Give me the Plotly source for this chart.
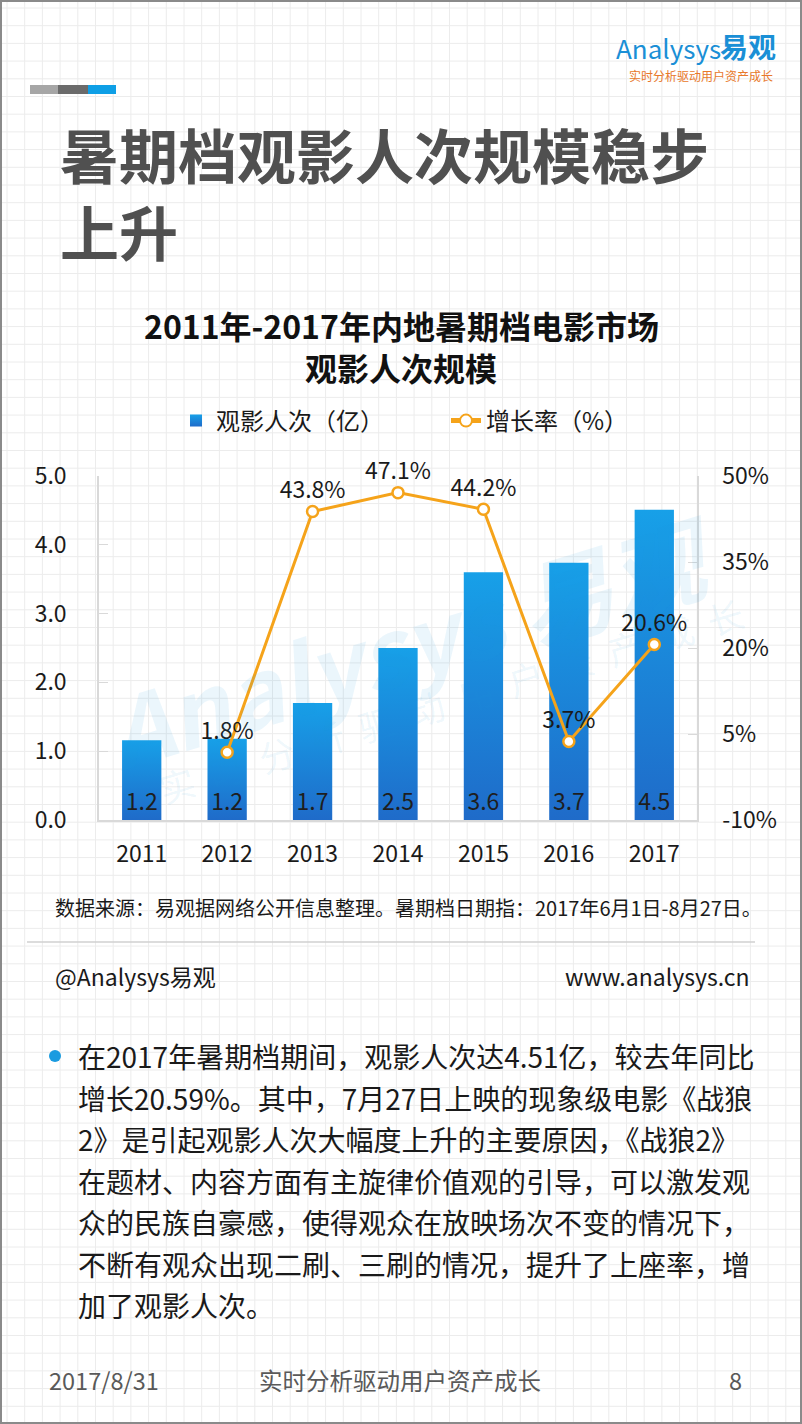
import plotly.graph_objects as go

# ---------------- data ----------------
years = ['2011', '2012', '2013', '2014', '2015', '2016', '2017']
viewers = [1.16, 1.18, 1.70, 2.50, 3.60, 3.74, 4.51]          # 观影人次（亿）
growth = [None, 1.8, 43.8, 47.1, 44.2, 3.7, 20.6]            # 增长率（%）
left_ticks = [0, 1, 2, 3, 4, 5]
left_labels = ['0.0', '1.0', '2.0', '3.0', '4.0', '5.0']
right_ticks = [-10, 5, 20, 35, 50]
right_labels = ['-10%', '5%', '20%', '35%', '50%']

paragraph = [
    '在2017年暑期档期间，观影人次达4.51亿，较去年同比',
    '增长20.59%。其中，7月27日上映的现象级电影《战狼',
    '2》是引起观影人次大幅度上升的主要原因，《战狼2》',
    '在题材、内容方面有主旋律价值观的引导，可以激发观',
    '众的民族自豪感，使得观众在放映场次不变的情况下，',
    '不断有观众出现二刷、三刷的情况，提升了上座率，增',
    '加了观影人次。',
]

W, H = 802, 1424
FONT = 'Noto Sans CJK SC'


def px(x):
    return x / W


def py(y):
    return 1 - y / H


fig = go.Figure()

fig.add_trace(go.Bar(
    x=years, y=viewers, name='观影人次（亿）',
    marker=dict(color='#1b8ad9', line=dict(width=0)),
    texttemplate='%{y:.1f}', textposition='inside', insidetextanchor='start',
    textfont=dict(family=FONT, size=23, color='#1e1e1e'),
    hoverinfo='skip', cliponaxis=False,
))

fig.add_trace(go.Scatter(
    x=years, y=growth, name='增长率（%）', yaxis='y2',
    mode='lines+markers+text',
    line=dict(color='#f5a31a', width=3),
    marker=dict(size=11, color='white', line=dict(color='#f5a31a', width=2.5)),
    texttemplate='%{y:.1f}%', textposition='top center',
    textfont=dict(family=FONT, size=23, color='#1a1a1a'),
    hoverinfo='skip', cliponaxis=False,
))

axis_col = '#d9d9d9'
tick_font = dict(size=23, family=FONT, color='#1a1a1a')
fig.update_layout(
    width=W, height=H, autosize=False,
    margin=dict(l=0, r=0, t=0, b=0, pad=0, autoexpand=False),
    paper_bgcolor='white', plot_bgcolor='rgba(0,0,0,0)',
    font=dict(family=FONT, color='#1a1a1a'),
    bargap=0.54,
    showlegend=True,
    legend=dict(orientation='h', x=px(176), xanchor='left', y=py(421), yanchor='middle',
                font=dict(size=24, family=FONT, color='#1a1a1a'), bgcolor='rgba(0,0,0,0)',
                traceorder='normal', itemsizing='constant', entrywidth=225, entrywidthmode='pixels'),
    xaxis=dict(domain=[px(99), px(697)], showline=True, linecolor=axis_col, linewidth=1.5,
               ticks='', showgrid=False, zeroline=False, fixedrange=True, automargin=False,
               tickfont=tick_font, ticklabelstandoff=13),
    yaxis=dict(domain=[py(820), py(476)], range=[0, 5], tickvals=left_ticks, ticktext=left_labels,
               showline=True, linecolor=axis_col, linewidth=1.5, ticks='inside', ticklen=9,
               tickcolor=axis_col, showgrid=False, zeroline=False, automargin=False,
               tickfont=tick_font, ticklabelstandoff=26),
    yaxis2=dict(overlaying='y', side='right', range=[-10, 50], tickvals=right_ticks, ticktext=right_labels,
                showline=True, linecolor=axis_col, linewidth=1.5, ticks='inside', ticklen=9,
                tickcolor=axis_col, showgrid=False, zeroline=False, automargin=False,
                tickfont=tick_font, ticklabelstandoff=19),
)

shapes = []
# graph-paper background
gx = 7.0
while gx < W:
    shapes.append(dict(type='line', xref='paper', yref='paper', x0=px(gx), x1=px(gx), y0=0, y1=1,
                       line=dict(color='#ececec', width=1), layer='below'))
    gx += 17.7
gy = 8.0
while gy < H:
    shapes.append(dict(type='line', xref='paper', yref='paper', x0=0, x1=1, y0=py(gy), y1=py(gy),
                       line=dict(color='#ececec', width=1), layer='below'))
    gy += 17.7
# page border
shapes.append(dict(type='rect', xref='paper', yref='paper', x0=px(1), x1=px(801), y0=py(1423), y1=py(1),
                   line=dict(color='#8a8a8a', width=2), layer='above'))
# top-left decorative bars
for x0, x1, c in [(30, 58, '#a6a6a6'), (58, 88, '#6b6b6b'), (88, 116, '#0e9fe6')]:
    shapes.append(dict(type='rect', xref='paper', yref='paper', x0=px(x0), x1=px(x1), y0=py(94), y1=py(85),
                       line=dict(width=0), fillcolor=c, layer='above'))
# separator line
shapes.append(dict(type='line', xref='paper', yref='paper', x0=px(27), x1=px(755), y0=py(942), y1=py(942),
                   line=dict(color='#d0d0d0', width=1.5)))
# bullet dot
shapes.append(dict(type='circle', xref='paper', yref='paper', x0=px(49), x1=px(61), y0=py(1062), y1=py(1050),
                   line=dict(width=0), fillcolor='#1a9be0'))
fig.update_layout(shapes=shapes)

ann = []


def text(x, y, s, size, color='#1a1a1a', anchor='left', bold=False, family=FONT, **kw):
    if bold:
        s = '<b>' + s + '</b>'
    ann.append(dict(x=px(x), y=py(y), xref='paper', yref='paper', text=s, showarrow=False,
                    xanchor=anchor, yanchor='middle', font=dict(size=size, color=color, family=family), **kw))


# watermark
text(410, 640, '<i>Analysys 易观</i>', 94, color='rgba(30,150,220,0.09)', anchor='center', bold=True, textangle=-17)
text(450, 700, '实  时  分  析  驱  动  用  户  资  产  成  长', 36, color='rgba(30,150,220,0.08)',
     anchor='center', textangle=-17)

# logo
text(668, 47, 'Analysys', 26, color='#1a8fd6', anchor='center')
text(748, 46, '易观', 28, color='#1a8fd6', anchor='center', bold=True)
text(701, 75, '实时分析驱动用户资产成长', 12, color='#e8782a', anchor='center')

# main heading
text(58, 192, '暑期档观影人次规模稳步<br>上升', 59, color='#505050', bold=True, align='left')

# chart title
text(401, 325, '2011年-2017年内地暑期档电影市场', 32, color='#111111', anchor='center', bold=True)
text(401, 367, '观影人次规模', 32, color='#111111', anchor='center', bold=True)

# source & credits
text(53, 908, '数据来源：易观据网络公开信息整理。暑期档日期指：2017年6月1日-8月27日。', 20, color='#1a1a1a')
text(53, 976, '@Analysys易观', 23, color='#1a1a1a')
text(752, 976, 'www.analysys.cn', 23, color='#1a1a1a', anchor='right')

# paragraph
for i, line in enumerate(paragraph):
    text(76, 1056 + i * 41.5, line, 28, color='#1a1a1a')

# footer
text(47, 1380, '2017/8/31', 23.5, color='#595959')
text(400, 1380, '实时分析驱动用户资产成长', 23.5, color='#595959', anchor='center')
text(735, 1380, '8', 23.5, color='#595959', anchor='center')

fig.update_layout(annotations=ann)

post = """
var gd = document.getElementById('{plot_id}');
var outer = gd.parentElement;
document.documentElement.style.margin = '0';
document.documentElement.style.padding = '0';
document.body.style.margin = '0';
document.body.style.padding = '0';
document.body.insertBefore(gd, document.body.firstChild);
if (outer && outer !== document.body) { outer.style.display = 'none'; }
gd.style.display = 'block';
var svg = gd.querySelector('svg.main-svg');
var ns = 'http://www.w3.org/2000/svg';
var defs = svg.querySelector('defs') || svg.insertBefore(document.createElementNS(ns, 'defs'), svg.firstChild);
var lg = document.createElementNS(ns, 'linearGradient');
lg.setAttribute('id', 'bargrad'); lg.setAttribute('x1', '0'); lg.setAttribute('y1', '0');
lg.setAttribute('x2', '0'); lg.setAttribute('y2', '1');
[['0', '#17a0e8'], ['1', '#1f6bc9']].forEach(function (s) {
  var st = document.createElementNS(ns, 'stop');
  st.setAttribute('offset', s[0]); st.setAttribute('stop-color', s[1]); lg.appendChild(st);
});
defs.appendChild(lg);
gd.querySelectorAll('.barlayer .point path, .legend .legendpoints .legendundefined').forEach(function (p) { p.style.fill = 'url(#bargrad)'; });
"""

fig.write_html('out.html', post_script=post, config={'displayModeBar': False})
